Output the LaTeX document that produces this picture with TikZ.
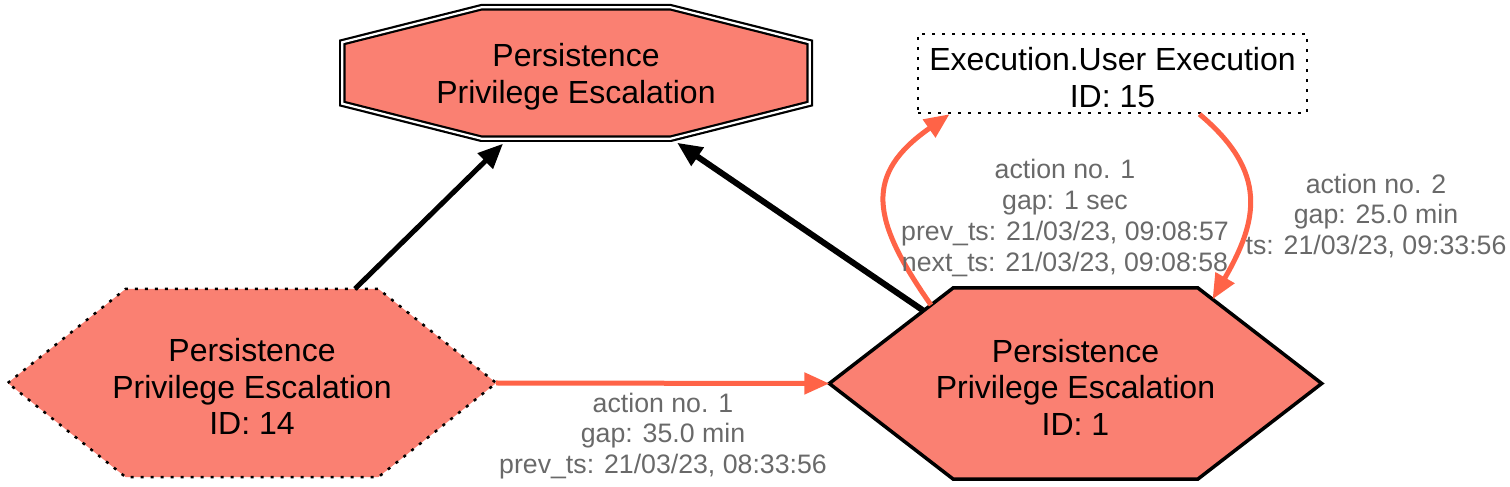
\documentclass[tikz,border=0pt]{standalone}
\usepackage{fontspec}
\setmainfont{Liberation Sans}
\usetikzlibrary{arrows.meta,positioning,calc,backgrounds}
\definecolor{salmonfill}{RGB}{250,128,114}
\definecolor{tomatoedge}{RGB}{255,99,71}
\definecolor{labelgray}{RGB}{105,105,105}
\newcommand{\lowstrut}{\rule{0pt}{31pt}}

\begin{document}
\begin{tikzpicture}[x=1pt, y=1pt, >={Triangle[length=25pt,width=21pt]},
             every node/.style={font=\fontsize{32}{36.5}\selectfont, align=center},
             tech/.style={rectangle, inner sep=0pt},
             outline/.style={fill=salmonfill, draw=black, line join=miter},
             dotline/.style={line width=2.5pt, dash pattern=on 3pt off 7pt},
             lbl/.style={font=\fontsize{26.7}{30.7}\selectfont, text=labelgray},
             blkedge/.style={->, draw=black, line width=5pt},
             seqedge/.style={->, draw=tomatoedge, line width=5pt}]
\useasboundingbox (0,0) rectangle (1510,487);

%% technique nodes (text only, outlines go on the background layer)
\node[tech, minimum width=467pt, minimum height=131pt] (top) at (576,414)
  {\lowstrut Persistence\\Privilege Escalation};
\node[tech, minimum width=488pt, minimum height=188pt] (h14) at (252,104)
  {\lowstrut Persistence\\Privilege Escalation\\ID: 14};
\node[tech, minimum width=492pt, minimum height=191pt] (h1) at (1075.5,103.5)
  {\lowstrut Persistence\\Privilege Escalation\\ID: 1};
\node[tech, draw, dotline, minimum width=389pt, minimum height=79pt] (ex) at (1112.5,413.5)
  {\lowstrut Execution.User Execution\\ID: 15};

%% hexagon corners used by the curved edges
\coordinate (h1nw) at ([xshift=124pt]h1.north west);
\coordinate (h1ne) at ([xshift=-124pt]h1.north east);

\begin{scope}[on background layer]
  %% double octagon
  \draw[outline, line width=2.2pt, double=white, double distance=2.2pt]
    ([xshift=139pt]top.north west) -- ([xshift=-139pt]top.north east)
    -- ([yshift=-35pt]top.north east) -- ([yshift=35pt]top.south east)
    -- ([xshift=-139pt]top.south east) -- ([xshift=139pt]top.south west)
    -- ([yshift=35pt]top.south west) -- ([yshift=-35pt]top.north west) -- cycle;
  %% dotted hexagon
  \draw[outline, dotline]
    (h14.west) -- ([xshift=118pt]h14.north west) -- ([xshift=-118pt]h14.north east)
    -- (h14.east) -- ([xshift=-118pt]h14.south east) -- ([xshift=118pt]h14.south west) -- cycle;
  %% solid hexagon
  \draw[outline, line width=3.5pt]
    (h1.west) -- (h1nw) -- (h1ne)
    -- (h1.east) -- ([xshift=-124pt]h1.south east) -- ([xshift=124pt]h1.south west) -- cycle;
\end{scope}

%% edges
\draw[blkedge] ([xshift=103pt]h14.north) -- ([xshift=-73pt,yshift=-5pt]top.south);
\draw[blkedge, line width=6pt] ($(h1.west)!0.76!(h1nw)$) -- ([xshift=101pt,yshift=-4pt]top.south);
\draw[seqedge] (h14.east) -- (h1.west);
\draw[seqedge] ($(h1.west)!0.82!(h1nw)$) to[out=125, in=215, looseness=1.4] ([xshift=-163pt]ex.south);
\draw[seqedge] ([xshift=87pt]ex.south) to[out=-40, in=60, looseness=1.25] ($(h1ne)!0.12!(h1.east)$);

%% edge labels
\node[lbl] (gap14) at (663,51)
  {action no. 1\\gap: 35.0 min\\prev\_ts: 21/03/23, 08:33:56};
\node[lbl] (gap1a) at (1065,269)
  {action no. 1\\gap: 1 sec\\prev\_ts: 21/03/23, 09:08:57\\next\_ts: 21/03/23, 09:08:58};
\node[lbl] (gap1b) at (1376,271)
  {action no. 2\\gap: 25.0 min\\ts: 21/03/23, 09:33:56};
\end{tikzpicture}
\end{document}
